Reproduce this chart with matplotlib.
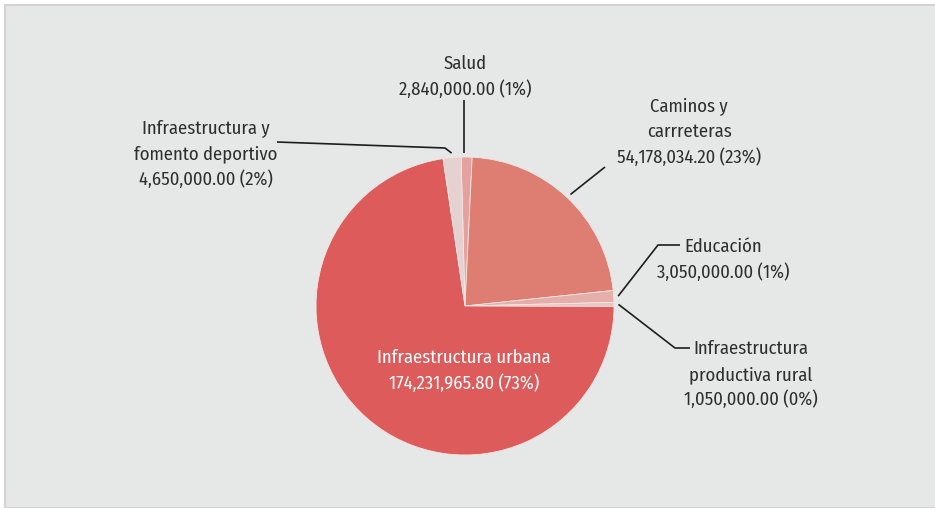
import numpy as np
import matplotlib
matplotlib.use('Agg')
from matplotlib import pyplot as plt
from matplotlib.patches import Rectangle

plt.rcParams['font.family'] = ['Fira Sans Condensed', 'DejaVu Sans']
plt.rcParams['font.stretch'] = 'condensed'

# Data (clockwise from the top)
labels = [['Salud'], ['Caminos y', 'carrreteras'], ['Educación'],
          ['Infraestructura', 'productiva rural'], ['Infraestructura urbana'],
          ['Infraestructura y', 'fomento deportivo']]
values = [2840000.00, 54178034.20, 3050000.00, 1050000.00, 174231965.80, 4650000.00]
pct_text = ['1%', '23%', '1%', '0%', '73%', '2%']
colors = ['#e4a19d', '#de7e73', '#e5aea9', '#e9c6c2', '#dd5b5b', '#e5d1cf']

W, H = 935, 508
cx, cy, R = 465, 306, 149

fig = plt.figure(figsize=(W / 100, H / 100), dpi=100, facecolor='white')
fig.patches.append(Rectangle((5 / W, 0), 1, (H - 5) / H, transform=fig.transFigure,
                             facecolor='#e6e7e7', edgecolor='#d3d3d3', lw=1.5, zorder=-10))

ax = fig.add_axes([(cx - R) / W, (H - cy - R) / H, 2 * R / W, 2 * R / H])
wedges, _ = ax.pie(values, colors=colors, startangle=91.5, counterclock=False, radius=1,
                   wedgeprops=dict(edgecolor='#f3e6e5', linewidth=0.6))
ax.set_xlim(-1, 1); ax.set_ylim(-1, 1)
ax.axis('off')

def P(px, py):
    # pixel position -> data coordinates
    return ((px - cx) / R, (cy - py) / R)

def edge_point(w, r=1.03):
    a = np.deg2rad((w.theta1 + w.theta2) / 2)
    return (r * np.cos(a), r * np.sin(a))

line = dict(color='#1e1e1e', lw=1.2, clip_on=False, solid_capstyle='butt')

def label(i, px, py, color='#2e2e2e', step=25.5):
    rows = labels[i] + [f'{values[i]:,.2f} ({pct_text[i]})']
    n = len(rows)
    for k, s in enumerate(rows):
        yy = py + (k - (n - 1) / 2) * step + 7
        ax.text(*P(px, yy), s, fontsize=13.4, color=color, ha='center', va='baseline',
                clip_on=False)

def leader(i, *elbows):
    pts = [edge_point(wedges[i])] + [P(*e) for e in elbows]
    ax.plot([p[0] for p in pts], [p[1] for p in pts], **line)

# Salud
x0, y0 = edge_point(wedges[0])
ax.plot([x0 - 0.015, x0 - 0.015], [y0, P(0, 100)[1]], **line)
label(0, 465, 75)

# Caminos y carreteras
leader(1, (605, 167))
label(1, 689, 130)

# Educacion
leader(2, (658, 245), (680, 245))
label(2, 723, 258)

# Infraestructura productiva rural
leader(3, (675, 348), (690, 348))
label(3, 751, 373)

# Infraestructura urbana (inside)
label(4, 464, 369, color='white')

# Infraestructura y fomento deportivo
leader(5, (445, 148), (277, 142))
label(5, 206, 152)

fig.savefig('out.png', dpi=100, facecolor='white')
